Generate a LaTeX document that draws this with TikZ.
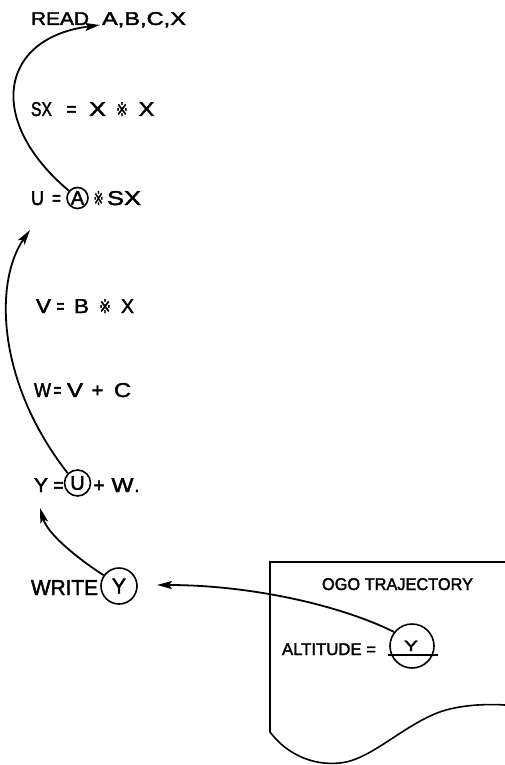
\documentclass[tikz,border=0pt]{standalone}
\usepackage{fontspec}
\setmainfont{Liberation Sans}[FakeBold=2]
\newfontfamily\marksym{DejaVu Sans}[FakeBold=1.5]
\usepackage{graphicx}
\usetikzlibrary{arrows.meta,calc}

% one lettered token: name, centre x, baseline y, ink width, size style, text
\newcommand\tk[6]{\node[tok,#5] (#1) at (#2,#3) {\resizebox{#4pt}{\height}{#6}};}

\begin{document}
\begin{tikzpicture}[x=1pt,y=-1pt,
  tok/.style={anchor=base,inner sep=0pt,outer sep=0pt},
  lg/.style={font=\fontsize{18.5}{18}\selectfont},
  md/.style={font=\fontsize{20}{20}\selectfont},
  st/.style={font=\fontsize{19}{19}\selectfont},
  wr/.style={font=\fontsize{21.5}{21}\selectfont},
  sm/.style={font=\fontsize{17}{17}\selectfont},
  sy/.style={font=\fontsize{15}{15}\selectfont},
  ring/.style={circle,draw,line width=1.6pt,inner sep=0pt},
  flow/.style={line width=1.8pt,-{Stealth[length=15pt,width=8pt,inset=3pt]}},
  pageline/.style={line width=1.6pt},
]
\useasboundingbox (0,0) rectangle (505,765);

% READ A,B,C,X
\tk{read}{60}{25}{58}{lg}{READ}
\tk{args}{144}{25}{84}{lg}{A,B,C,X}

% SX = X * X
\tk{sxl}{41.5}{116}{21}{md}{SX}
\tk{sxeq}{71.5}{116}{10}{md}{=}
\tk{sxa}{97.5}{116}{17}{md}{X}
\tk{sxm}{122}{116}{12}{st}{\marksym ※}
\tk{sxb}{146.5}{116}{16}{md}{X}

% U = (A) * SX
\tk{ul}{37.5}{205}{13}{md}{U}
\tk{ueq}{56.5}{205}{9}{md}{=}
\node[ring,md,minimum size=21pt] (cA) at (77.5,198) {A};
\tk{um}{98.5}{205}{10}{st}{\marksym ※}
\tk{usx}{124}{205}{34}{md}{SX}

% V = B * X
\tk{vl}{43.5}{313}{15}{md}{V}
\tk{veq}{60.5}{313}{8}{md}{=}
\tk{vb}{81.5}{313}{15}{md}{B}
\tk{vm}{105}{313}{12}{st}{\marksym ※}
\tk{vx}{127.5}{313}{13}{md}{X}

% W = V + C
\tk{wl}{42.5}{397}{17}{md}{W}
\tk{weq}{57.5}{397}{8}{md}{=}
\tk{wv}{75}{397}{16}{md}{V}
\tk{wp}{97.5}{397}{12}{md}{+}
\tk{wc}{122.5}{397}{17}{md}{C}

% Y = (U) + W.
\tk{yl}{41}{492}{14}{md}{Y}
\tk{yeq}{58.5}{492}{10}{md}{=}
\node[ring,md,minimum size=26pt] (cU) at (77.5,483) {U};
\tk{yp}{99}{492}{11}{md}{+}
\tk{yw}{122.5}{492}{22}{md}{W}
\tk{ydot}{137}{492}{5}{md}{.}

% WRITE (Y)
\tk{write}{64.5}{595}{67}{wr}{WRITE}
\node[ring,wr,minimum size=36pt] (wY) at (119,586) {Y};

% output page with torn lower edge
\draw[pageline] (505,562) -- (270,562) -- (270,732)
  .. controls (285,752) and (310,766) .. (340,763)
  .. controls (370,760) and (400,728) .. (437,713)
  .. controls (460,704) and (490,704) .. (505,705);
\tk{title}{397.5}{590}{151}{sm}{OGO TRAJECTORY}
\tk{alt}{329}{655}{94}{sm}{ALTITUDE =}
\node[ring,minimum size=44pt] (bY) at (412,646) {};
\tk{bYl}{411}{651}{14}{sy}{Y}
\draw[pageline] ($(bY.center)+(-24,9)$) -- ($(bY.center)+(26,9)$);

% connectors
\coordinate (t1) at (100,25);
\coordinate (t2) at (30,230);
\coordinate (t3) at (40,508);
\coordinate (t4) at (157,585);
\draw[flow] (cA.140) .. controls (-15,120) and (0,38) .. (t1);
\draw[flow] (cU.135) .. controls (-5,380) and (-5,280) .. (t2);
\draw[flow] (wY.145) .. controls (80,560) and (48,535) .. (t3);
\draw[flow] (bY.142) .. controls (340,605) and (250,585) .. (t4);
\end{tikzpicture}
\end{document}
